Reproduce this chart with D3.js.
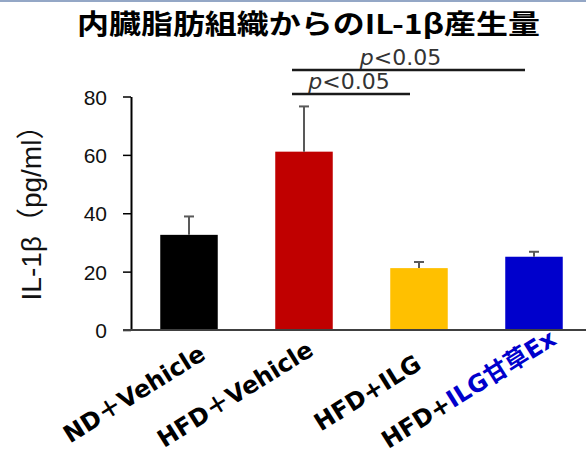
<!DOCTYPE html>
<html>
  <head>
    <meta charset="utf-8">
    <style>
      body { margin: 0; background: #fff; }
      svg { display: block; }
      .yaxis text { font-family: "Liberation Sans", Arial, sans-serif; font-size: 21px; fill: #111; }
      .xlab { font-family: "DejaVu Sans", Verdana, "Noto Sans CJK JP", sans-serif; font-weight: bold; font-size: 24px; }
      .sig text { font-family: "DejaVu Sans", Verdana, sans-serif; font-size: 22px; fill: #333; }
    </style>
  </head>
  <body>
    <svg width="586" height="457"></svg>
    <script src="https://d3js.org/d3.v7.min.js"></script>
    <script>
      // data
      var groups = ["ND＋Vehicle", "HFD＋Vehicle", "HFD+ILG", "HFD+ILG甘草Ex"];
      var labelHead = ["ND＋Vehicle", "HFD＋Vehicle", "HFD+ILG", "HFD+"];
      var labelTail = ["", "", "", "ILG甘草Ex"];
      var means = [32.6, 61.1, 21.2, 25.1];
      var errors = [6.3, 15.5, 2.1, 1.7];
      var barColors = ["#000000", "#c00000", "#ffc000", "#0000cc"];
      var yTicks = [0, 20, 40, 60, 80];
      var comparisons = [[1, 3, "<0.05"], [1, 2, "<0.05"]];

      // the labels were placed by hand in the original, nudge them a bit
      var labelNudge = [[0, 0], [-7, -4], [-14, 10], [6, -15]];

      var svg = d3.select("svg");

      // thin frame line at the top
      svg.append("rect")
        .attr("x", 0).attr("y", 0)
        .attr("width", 586).attr("height", 2)
        .attr("fill", "#94a7c6");

      var x = d3.scaleBand()
        .domain(groups)
        .range([131.5, 591.5])
        .paddingInner(0.5)
        .paddingOuter(0.25);

      var y = d3.scaleLinear()
        .domain([0, 80])
        .range([330, 96.5]);

      // bars
      svg.append("g")
        .selectAll("rect")
        .data(groups)
        .enter().append("rect")
        .attr("x", function(d) { return x(d); })
        .attr("width", x.bandwidth())
        .attr("y", function(d, i) { return y(means[i]); })
        .attr("height", function(d, i) { return y(0) - y(means[i]); })
        .attr("fill", function(d, i) { return barColors[i]; });

      // upper error bars
      var err = svg.append("g")
        .attr("stroke", "#595959")
        .attr("stroke-width", 2);

      groups.forEach(function(g, i) {
        var cx = x(g) + x.bandwidth() / 2;
        err.append("line")
          .attr("x1", cx).attr("x2", cx)
          .attr("y1", y(means[i])).attr("y2", y(means[i] + errors[i]));
        err.append("line")
          .attr("x1", cx - 5).attr("x2", cx + 5)
          .attr("y1", y(means[i] + errors[i])).attr("y2", y(means[i] + errors[i]));
      });

      // y axis
      var yAxis = svg.append("g")
        .attr("class", "yaxis")
        .attr("transform", "translate(131,0)")
        .call(d3.axisLeft(y).tickValues(yTicks).tickSize(8).tickSizeOuter(0).tickPadding(16));
      yAxis.select(".domain").attr("stroke", "#000").attr("stroke-width", 2);
      yAxis.selectAll(".tick line").attr("stroke", "#000").attr("stroke-width", 1.5);
      yAxis.selectAll(".tick text").attr("dy", "0.36em");

      // x axis line
      svg.append("line")
        .attr("x1", 123).attr("x2", 586)
        .attr("y1", y(0)).attr("y2", y(0))
        .attr("stroke", "#404040")
        .attr("stroke-width", 2);

      // y title
      svg.append("text")
        .attr("transform", "translate(41,206) rotate(-90)")
        .attr("text-anchor", "middle")
        .style("font-family", "'Liberation Sans', Arial, 'Noto Sans CJK JP', sans-serif")
        .style("font-size", "28px")
        .attr("fill", "#111")
        .text("IL-1β（pg/ml）");

      // x labels
      groups.forEach(function(g, i) {
        var cx = x(g) + x.bandwidth() / 2;
        var t = svg.append("text")
          .attr("class", "xlab")
          .attr("text-anchor", "end")
          .attr("transform", "translate(" + (cx + 18 + labelNudge[i][0]) + "," + (358 + labelNudge[i][1]) + ") rotate(-32)");
        t.append("tspan").attr("fill", "#000").text(labelHead[i]);
        if (labelTail[i]) t.append("tspan").attr("fill", "#0000cc").text(labelTail[i]);
      });

      // significance brackets
      var sig = svg.append("g").attr("class", "sig");
      comparisons.forEach(function(c, k) {
        var x1 = x(groups[c[0]]) + x.bandwidth() / 2 - 12;
        var x2 = x(groups[c[1]]) + x.bandwidth() / 2 - 9;
        var ly = k === 0 ? 70 : 94;
        sig.append("line")
          .attr("x1", x1).attr("x2", x2)
          .attr("y1", ly).attr("y2", ly)
          .attr("stroke", "#1a1a1a")
          .attr("stroke-width", 2.5);
        var t = sig.append("text")
          .attr("x", (x1 + x2) / 2 - (k === 0 ? 8 : 2))
          .attr("y", ly - 5)
          .attr("text-anchor", "middle");
        t.append("tspan").style("font-style", "italic").text("p");
        t.append("tspan").text(c[2]);
      });

      // title
      svg.append("text")
        .attr("x", 308.5)
        .attr("y", 34)
        .attr("text-anchor", "middle")
        .attr("textLength", 463)
        .attr("lengthAdjust", "spacingAndGlyphs")
        .style("font-family", "'Noto Sans CJK JP', sans-serif")
        .style("font-weight", "bold")
        .style("font-size", "27px")
        .attr("fill", "#000")
        .text("内臓脂肪組織からのIL-1β産生量");
    </script>
  </body>
</html>
